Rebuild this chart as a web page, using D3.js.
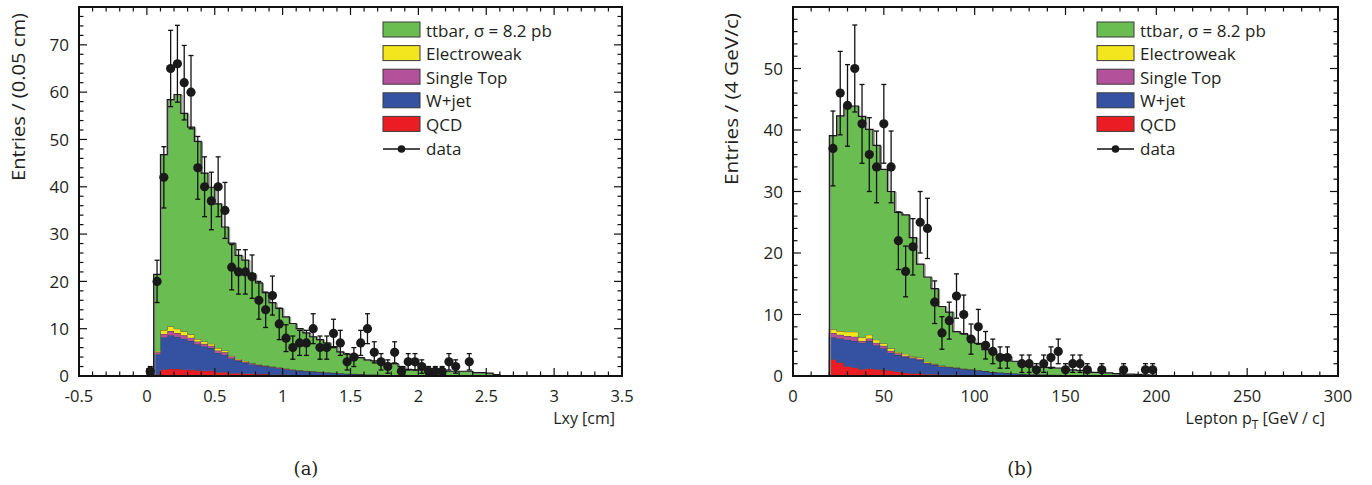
<!DOCTYPE html>
<html><head><meta charset="utf-8">
<script src="https://cdn.jsdelivr.net/npm/d3@7"></script>
<style>
body{margin:0;background:#fff}
svg{display:block}
text{font-family:"Open Sans",sans-serif;fill:#231f20}
</style>
</head><body>
<svg id="chart" width="1372" height="485"></svg>
<script>
// ---------------- DATA ----------------
const legendLabels = ["ttbar, σ = 8.2 pb", "Electroweak", "Single Top", "W+jet", "QCD", "data"];
const stackKeys = ["qcd", "wjet", "stop", "ew", "tt"];

// Panel (a): Lxy, bins of 0.05 cm
const lxyCenters = [0.025,0.075,0.125,0.175,0.225,0.275,0.325,0.375,0.425,0.475,
  0.525,0.575,0.625,0.675,0.725,0.775,0.825,0.875,0.925,0.975,
  1.025,1.075,1.125,1.175,1.225,1.275,1.325,1.375,1.425,1.475,
  1.525,1.575,1.625,1.675,1.725,1.775,1.825,1.875,1.925,1.975,
  2.025,2.075,2.125,2.175,2.225,2.275,2.325,2.375,2.425,2.475,2.525,2.575];
const lxyBinWidth = 0.05;
const lxyData = [1,20,42,65,66,62,60,44,40,37,40,35,23,22,22,21,16,14,17,11,
  8,6,7,7,10,6,6,9,7,3,4,7,10,5,3,2,5,1,3,3,2,1,1,1,3,2,0,3,0,0,0,0];
const lxyQCD = [0,0.35,1.4,1.5,1.5,1.4,1.3,1.2,1.1,1.1,0.8,0.8,0.6,0.6,0.5,0.5,0.4,0.4,0.3,0.3,
  0.3,0.2,0.2,0.2,0.1,0.1,0.1,0.1,0.1,0.05,0.05,0.05,0,0,0,0,0,0,0,0,0,0,0,0,0,0,0,0,0,0,0,0];
const lxyWjet = [0,4.25,6.8,7.1,6.8,6.5,6.1,5.5,5.2,4.8,4.1,3.7,3.1,2.6,2.3,2.0,1.8,1.6,1.5,1.3,
  1.1,1.0,0.9,0.8,0.8,0.7,0.6,0.55,0.5,0.45,0.4,0.35,0.3,0.3,0.25,0.2,0.2,0.15,0.15,0.1,
  0.1,0.05,0.05,0,0,0,0,0,0,0,0,0];
const lxyStop = [0,0.4,0.7,0.9,0.8,0.7,0.7,0.6,0.5,0.5,0.5,0.5,0.4,0.2,0.2,0.2,0.1,0.1,0.1,0.1,
  0.1,0.1,0.05,0.05,0.05,0.05,0.05,0.05,0,0,0,0,0,0,0,0,0,0,0,0,0,0,0,0,0,0,0,0,0,0,0,0];
const lxyEW = [0,0.3,0.8,1.0,0.9,0.8,0.7,0.5,0.5,0.4,0.5,0.4,0.2,0.2,0.2,0.1,0.2,0.1,0.1,0.1,
  0.1,0.1,0.05,0.05,0.05,0.05,0.05,0,0,0,0,0,0,0,0,0,0,0,0,0,0,0,0,0,0,0,0,0,0,0,0,0];
const lxyTtbar = [0,16.2,37.1,47.9,49.5,46.1,43.8,41.8,35.6,33.1,30.5,26.1,23.8,21.9,21.3,18.8,17.2,15.4,13.5,12.5,
  10.9,9.7,8.8,8.0,7.3,6.8,6.2,5.5,4.5,4.1,3.95,3.5,3.1,2.9,2.55,2.5,2.4,1.85,1.25,1.2,
  1.5,1.15,1.05,1.1,1.0,1.0,1.0,1.0,0.7,0.7,0.6,0.3];
const lxyXTicks = [-0.5,0,0.5,1,1.5,2,2.5,3,3.5];
const lxyXTickLabels = ["-0.5","0","0.5","1","1.5","2","2.5","3","3.5"];
const lxyYTicks = [0,10,20,30,40,50,60,70];
const lxyYTickLabels = ["0","10","20","30","40","50","60","70"];

// Panel (b): Lepton pT, bins of 4 GeV/c
const ptCenters = [22,26,30,34,38,42,46,50,54,58,62,66,70,74,78,82,86,90,94,98,
  102,106,110,114,118,122,126,130,134,138,142,146,150,154,158,162,166,170,174,178,
  182,186,190,194,198];
const ptBinWidth = 4;
const ptData = [37,46,44,50,41,36,34,41,34,22,17,21,25,24,12,7,9,13,10,6,
  8,5,4,3,3,0,2,2,1,2,3,4,1,2,2,1,0,1,0,0,1,0,0,1,1];
const ptQCD = [2.7,2.2,1.6,1.4,1.1,1.2,1.1,1.0,0.9,0.7,0.5,0.4,0.4,0.3,0.3,0.2,0.2,0.2,0.1,0.1,
  0.1,0.1,0.05,0.05,0.05,0,0,0,0,0,0,0,0,0,0,0,0,0,0,0,0,0,0,0,0];
const ptWjet = [3.6,3.9,4.3,4.3,4.3,4.5,3.9,3.5,2.9,2.7,2.6,2.5,2.2,1.7,1.5,1.3,1.2,1.1,1.0,0.9,
  0.8,0.7,0.6,0.5,0.45,0.4,0.35,0.3,0.3,0.25,0.2,0.2,0.15,0.15,0.1,0.1,0.1,0.05,0.05,0.05,0,0,0,0,0];
const ptStop = [0.7,0.6,0.6,0.7,0.3,0.4,0.4,0.4,0.3,0.3,0.2,0.1,0.2,0.1,0.1,0.1,0.05,0.05,0.05,0.05,
  0.05,0,0,0,0,0,0,0,0,0,0,0,0,0,0,0,0,0,0,0,0,0,0,0,0];
const ptEW = [0.6,0.6,0.7,0.8,0.6,0.6,0.5,0.4,0.4,0.2,0.3,0.2,0.2,0.2,0.1,0.1,0.05,0.05,0.05,0.05,
  0,0,0,0,0,0,0,0,0,0,0,0,0,0,0,0,0,0,0,0,0,0,0,0,0];
const ptTtbar = [31.5,35.0,36.6,36.7,35.9,33.4,31.6,28.3,25.5,22.7,22.6,19.3,15.2,13.8,12.2,9.6,8.9,5.8,5.7,5.0,
  4.35,3.5,3.25,2.95,2.7,2.0,1.55,1.3,1.1,1.15,1.2,1.1,0.95,0.85,0.8,0.7,0.5,0.55,0.45,0.35,
  0.3,0.3,0.25,0.2,0.15];
const ptXTicks = [0,50,100,150,200,250,300];
const ptXTickLabels = ["0","50","100","150","200","250","300"];
const ptYTicks = [0,10,20,30,40,50];
const ptYTickLabels = ["0","10","20","30","40","50"];

// ---------------- STYLE ----------------
const colors = {tt:"#6abd50", ew:"#f3e61e", stop:"#b4519b", wjet:"#3551a2", qcd:"#ec1c24"};
const legendColors = [colors.tt, colors.ew, colors.stop, colors.wjet, colors.qcd];

const svg = d3.select("#chart");

function drawPanel(cfg) {
  const x = d3.scaleLinear().domain(cfg.xDomain).range([cfg.left, cfg.right]);
  const y = d3.scaleLinear().domain(cfg.yDomain).range([cfg.bottom, cfg.top]);
  const g = svg.append("g");

  // stacked histogram
  const rows = cfg.centers.map((c, i) => ({c, qcd: cfg.qcd[i], wjet: cfg.wjet[i], stop: cfg.stop[i], ew: cfg.ew[i], tt: cfg.tt[i]}));
  const stacked = d3.stack().keys(stackKeys)(rows);
  const hw = cfg.binWidth / 2;
  const firstEdge = cfg.centers[0] - hw, lastEdge = cfg.centers[cfg.centers.length - 1] + hw;
  const area = d3.area().x(d => x(d.x)).y0(d => y(d.y0)).y1(d => y(d.y1));
  const line = d3.line().x(d => x(d.x)).y(d => y(d.y1));

  stacked.forEach(layer => {
    const pts = [{x: firstEdge, y0: 0, y1: 0}];
    layer.forEach((d, i) => {
      const c = cfg.centers[i];
      pts.push({x: c - hw, y0: d[0], y1: d[1]});
      pts.push({x: c + hw, y0: d[0], y1: d[1]});
    });
    pts.push({x: lastEdge, y0: 0, y1: 0});
    g.append("path").attr("d", area(pts)).attr("fill", colors[layer.key]).attr("stroke", "none");
    if (layer.key === "tt") {
      g.append("path").attr("d", line(pts)).attr("fill", "none")
        .attr("stroke", "#8a8a8a").attr("stroke-width", 1).attr("transform", "translate(1.3,0.6)");
      g.append("path").attr("d", line(pts)).attr("fill", "none")
        .attr("stroke", "#1a1a1a").attr("stroke-width", 1.2);
    } else {
      g.append("path").attr("d", line(pts)).attr("fill", "none")
        .attr("stroke", "#3a3a3a").attr("stroke-width", 0.8);
    }
  });

  // data points with Poisson error bars
  const pts = cfg.centers.map((c, i) => ({c, v: cfg.data[i]})).filter(d => d.v > 0);
  const eg = g.append("g").attr("stroke", "#111").attr("stroke-width", 1.3);
  pts.forEach(d => {
    const e = Math.sqrt(d.v);
    const cx = x(d.c);
    eg.append("line").attr("x1", cx).attr("x2", cx).attr("y1", y(d.v - e)).attr("y2", y(d.v + e));
    eg.append("line").attr("x1", cx - 2.5).attr("x2", cx + 2.5).attr("y1", y(d.v - e)).attr("y2", y(d.v - e));
    eg.append("line").attr("x1", cx - 2.5).attr("x2", cx + 2.5).attr("y1", y(d.v + e)).attr("y2", y(d.v + e));
  });
  g.append("g").selectAll("circle").data(pts).join("circle")
    .attr("cx", d => x(d.c)).attr("cy", d => y(d.v)).attr("r", 4.6).attr("fill", "#1a1a1a");

  // frame and ticks
  const ax = g.append("g").attr("stroke", "#111");
  const majLen = 8, minLen = 4.5;
  const xMinor = d3.range(cfg.xDomain[0], cfg.xDomain[1] + 1e-9, cfg.xMinorStep);
  xMinor.forEach(v => {
    const isMajor = cfg.xTicks.some(t => Math.abs(t - v) < 1e-9);
    if (v === cfg.xDomain[0] || Math.abs(v - cfg.xDomain[1]) < 1e-9) return;
    const L = isMajor ? majLen : minLen;
    ax.append("line").attr("x1", x(v)).attr("x2", x(v)).attr("y1", cfg.bottom).attr("y2", cfg.bottom - L).attr("stroke-width", 1.2);
    ax.append("line").attr("x1", x(v)).attr("x2", x(v)).attr("y1", cfg.top).attr("y2", cfg.top + L).attr("stroke-width", 1.2);
  });
  const yMinor = d3.range(0, cfg.yDomain[1] + 1e-9, cfg.yMinorStep);
  yMinor.forEach(v => {
    if (v === 0 || Math.abs(v - cfg.yDomain[1]) < 1e-9) return;
    const isMajor = cfg.yTicks.includes(v);
    const L = isMajor ? majLen : minLen;
    ax.append("line").attr("x1", cfg.left).attr("x2", cfg.left + L).attr("y1", y(v)).attr("y2", y(v)).attr("stroke-width", 1.2);
    ax.append("line").attr("x1", cfg.right).attr("x2", cfg.right - L).attr("y1", y(v)).attr("y2", y(v)).attr("stroke-width", 1.2);
  });
  ax.append("rect").attr("x", cfg.left).attr("y", cfg.top)
    .attr("width", cfg.right - cfg.left).attr("height", cfg.bottom - cfg.top)
    .attr("fill", "none").attr("stroke-width", 2);

  // tick labels
  g.append("g").selectAll("text").data(cfg.xTicks).join("text")
    .attr("x", d => x(d)).attr("y", 401.5).attr("text-anchor", "middle")
    .attr("font-size", 16.5).text((d, i) => cfg.xTickLabels[i]);
  g.append("g").selectAll("text").data(cfg.yTicks).join("text")
    .attr("x", cfg.left - 10).attr("y", d => y(d)).attr("dy", "0.36em").attr("text-anchor", "end")
    .attr("font-size", 17).text((d, i) => cfg.yTickLabels[i]);

  // axis titles
  g.append("text").attr("transform", `translate(${cfg.yTitleX},13) rotate(-90)`)
    .attr("text-anchor", "end").attr("font-size", 17.5)
    .attr("textLength", cfg.yTitleLen).attr("lengthAdjust", "spacingAndGlyphs").text(cfg.yTitle);
  cfg.xTitle(g.append("text").attr("x", cfg.xTitleRight).attr("y", 424).attr("text-anchor", "end").attr("font-size", 16));

  // caption
  g.append("text").attr("x", cfg.captionX).attr("y", 475).attr("text-anchor", "middle")
    .style("font-family", "'DejaVu Serif', serif").attr("font-size", 18).text(cfg.caption);

  // legend
  const lg = g.append("g");
  const bx = cfg.left + 304, by0 = 22, step = 23.6;
  legendLabels.forEach((lab, i) => {
    const ry = by0 + i * step;
    if (i < 5) {
      lg.append("rect").attr("x", bx).attr("y", ry).attr("width", 37).attr("height", 15)
        .attr("fill", legendColors[i]).attr("stroke", "#3a3a3a").attr("stroke-width", 1);
    } else {
      const cy = ry + 7.5 + 1.5;
      lg.append("line").attr("x1", bx).attr("x2", bx + 37).attr("y1", cy).attr("y2", cy).attr("stroke", "#111").attr("stroke-width", 1.3);
      lg.append("circle").attr("cx", bx + 18.5).attr("cy", cy).attr("r", 3.8).attr("fill", "#1a1a1a");
    }
    lg.append("text").attr("x", bx + 43).attr("y", ry + 14.5).attr("font-size", 17).text(lab);
  });
}

drawPanel({
  left: 79, right: 622, top: 7, bottom: 376,
  xDomain: [-0.5, 3.5], yDomain: [0, 78], xMinorStep: 0.1, yMinorStep: 2,
  centers: lxyCenters, binWidth: lxyBinWidth, data: lxyData,
  qcd: lxyQCD, wjet: lxyWjet, stop: lxyStop, ew: lxyEW, tt: lxyTtbar,
  xTicks: lxyXTicks, xTickLabels: lxyXTickLabels, yTicks: lxyYTicks, yTickLabels: lxyYTickLabels,
  yTitle: "Entries / (0.05 cm)", yTitleX: 25, yTitleLen: 168,
  xTitle: t => t.text("Lxy [cm]"), xTitleRight: 615,
  caption: "(a)", captionX: 306
});

drawPanel({
  left: 793, right: 1338, top: 7, bottom: 376,
  xDomain: [0, 300], yDomain: [0, 60], xMinorStep: 10, yMinorStep: 2,
  centers: ptCenters, binWidth: ptBinWidth, data: ptData,
  qcd: ptQCD, wjet: ptWjet, stop: ptStop, ew: ptEW, tt: ptTtbar,
  xTicks: ptXTicks, xTickLabels: ptXTickLabels, yTicks: ptYTicks, yTickLabels: ptYTickLabels,
  yTitle: "Entries / (4 GeV/c)", yTitleX: 738, yTitleLen: 172,
  xTitle: t => {
    t.append("tspan").text("Lepton p");
    t.append("tspan").attr("dy", 5).attr("font-size", 12).text("T");
    t.append("tspan").attr("dy", -5).text(" [GeV / c]");
  }, xTitleRight: 1325,
  caption: "(b)", captionX: 1020
});
</script>
</body></html>
